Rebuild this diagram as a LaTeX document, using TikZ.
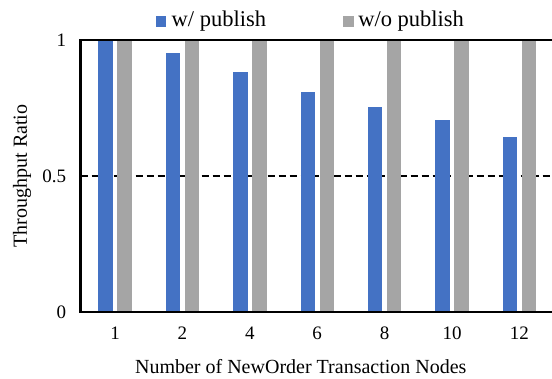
\documentclass[tikz,border=0pt]{standalone}
\usepackage{fontspec}
\setmainfont{Liberation Serif}
\begin{document}
\begin{tikzpicture}[x=1bp,y=1bp]

	%DEFINICIONES
	\tikzstyle{every node}=[inner sep=0pt, outer sep=0pt]
	\tikzstyle{etiqueta} = [font=\rmfamily\fontsize{19bp}{22bp}\selectfont]
	\tikzstyle{titulo} = [font=\rmfamily\fontsize{20bp}{24bp}\selectfont]
	\tikzstyle{leyenda} = [font=\rmfamily\fontsize{22.5bp}{26bp}\selectfont, anchor=west]
	\tikzstyle{azul} = [fill={rgb,255:red,68; green,114; blue,196}]
	\tikzstyle{gris} = [fill={rgb,255:red,165; green,165; blue,165}]
	\tikzstyle{eje} = [line width=2.8bp, line cap=rect]
	\tikzstyle{marco} = [line width=1.8bp]
	\tikzstyle{rejilla} = [line width=1.2bp, dash pattern=on 7bp off 4bp]

	\useasboundingbox (0,0) rectangle (552,378);

	%EJES
	\coordinate (o) at (80.7,66);
	\coordinate (a) at (80.7,338);
	\coordinate (b) at (552,66);
	\coordinate (c) at (552,338);
	\coordinate (m1) at (80.7,202);
	\coordinate (m2) at (552,202);
	\draw [rejilla] (m1) -- (m2);

	%BARRAS
	\fill [azul] (98.3,66) rectangle (112.7,338);
	\fill [gris] (117.3,66) rectangle (131.7,338);
	\fill [azul] (165.7,66) rectangle (180.1,324.9);
	\fill [gris] (184.7,66) rectangle (199.1,338);
	\fill [azul] (233.1,66) rectangle (247.5,305.9);
	\fill [gris] (252.1,66) rectangle (266.5,338);
	\fill [azul] (300.5,66) rectangle (314.9,286.0);
	\fill [gris] (319.5,66) rectangle (333.9,338);
	\fill [azul] (367.9,66) rectangle (382.3,271.1);
	\fill [gris] (386.9,66) rectangle (401.3,338);
	\fill [azul] (435.3,66) rectangle (449.7,257.8);
	\fill [gris] (454.3,66) rectangle (468.7,338);
	\fill [azul] (502.7,66) rectangle (517.1,240.9);
	\fill [gris] (521.7,66) rectangle (536.1,338);

	\draw [marco] (a) -- (c);
	\draw [marco] (o) -- (b);
	\draw [eje] (o) -- (a);

	%ETIQUETAS
	\draw(66,338) node[etiqueta, anchor=east](y1){1};
	\draw(66,202) node[etiqueta, anchor=east](y05){0.5};
	\draw(66,66) node[etiqueta, anchor=east](y0){0};

	\draw(115,45) node[etiqueta](x1){1};
	\draw(182.4,45) node[etiqueta](x2){2};
	\draw(249.8,45) node[etiqueta](x4){4};
	\draw(317.2,45) node[etiqueta](x6){6};
	\draw(384.6,45) node[etiqueta](x8){8};
	\draw(452,45) node[etiqueta](x10){10};
	\draw(519.4,45) node[etiqueta](x12){12};

	\draw(300.8,11) node[titulo](tx){Number of NewOrder Transaction Nodes};
	\draw(22,202) node[titulo, rotate=90](ty){Throughput Ratio};

	%LEYENDA
	\fill [azul] (155.7,351.3) rectangle (166,362);
	\draw(171.7,357) node[leyenda](l1){w/ publish};
	\fill [gris] (343.3,351.3) rectangle (354,362);
	\draw(358.3,357) node[leyenda](l2){w/o publish};
\end{tikzpicture}
\end{document}
